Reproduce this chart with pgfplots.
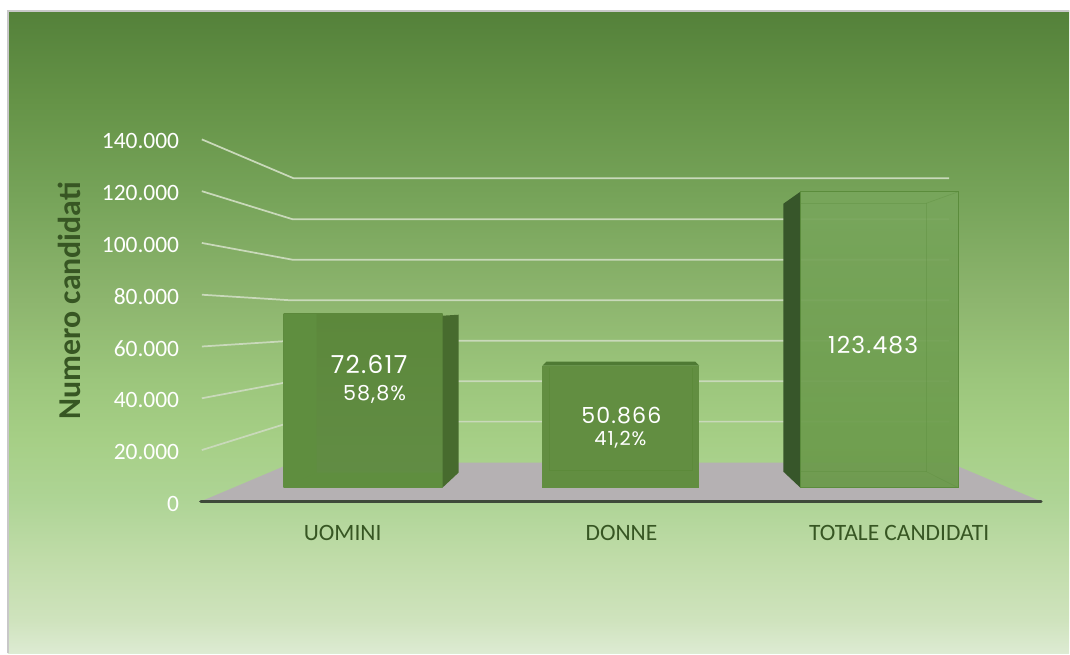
\documentclass[border=0pt]{standalone}
\usepackage{pgfplots}
\pgfplotsset{compat=1.18}
\usepackage{fontspec}
\setmainfont{Carlito}
\newfontfamily\lblfont[LetterSpace=5]{Poppins}
\definecolor{bga}{RGB}{221,235,211}
\definecolor{bgb}{RGB}{207,227,189}
\definecolor{bgc}{RGB}{192,220,169}
\definecolor{bgd}{RGB}{174,212,149}
\definecolor{bge}{RGB}{166,207,134}
\definecolor{bgf}{RGB}{156,198,124}
\definecolor{bgg}{RGB}{141,181,110}
\definecolor{bgh}{RGB}{119,164,90}
\definecolor{bgi}{RGB}{101,147,71}
\definecolor{bgj}{RGB}{84,129,58}
\pgfdeclareverticalshading{bgshade}{100bp}{
 color(0bp)=(bga);
 color(25bp)=(bga);
 color(27.6bp)=(bgb);
 color(32.3bp)=(bgc);
 color(37bp)=(bgd);
 color(41.6bp)=(bge);
 color(46.3bp)=(bgf);
 color(52.5bp)=(bgg);
 color(60.3bp)=(bgh);
 color(68bp)=(bgi);
 color(75bp)=(bgj);
 color(100bp)=(bgj)}
\definecolor{gridc}{HTML}{C9D9BA}
\definecolor{floorc}{HTML}{B5B1B3}
\definecolor{axisc}{HTML}{3F4A3A}
\definecolor{titlec}{HTML}{375623}
\definecolor{framec}{HTML}{C8C8C8}
\definecolor{HTMLa}{HTML}{5C883B}
\definecolor{HTMLb}{HTML}{628D45}
\definecolor{HTMLc}{HTML}{5F8E3F}
\definecolor{HTMLd}{HTML}{476B2E}
\definecolor{HTMLe}{HTML}{4F7A34}
\definecolor{HTMLf}{HTML}{628E41}
\definecolor{HTMLg}{HTML}{5C8A3A}
\definecolor{HTMLh}{HTML}{37562A}
\definecolor{HTMLi}{HTML}{5B8C3C}
\definecolor{HTMLj}{HTML}{78A65C}
\definecolor{HTMLk}{HTML}{6A9A49}
\begin{document}
\begin{tikzpicture}
\begin{axis}[
 scale only axis, width=632.25pt, height=272.1pt,
 xmin=200, xmax=1043, ymin=0, ymax=140000, clip=false, axis on top,
 axis line style={draw=none}, major tick length=0pt,
 xtick={343,622,900}, xticklabels={UOMINI,DONNE,TOTALE CANDIDATI},
 ytick={0,20000,40000,60000,80000,100000,120000,140000},
 yticklabels={0,20.000,40.000,60.000,80.000,100.000,120.000,140.000},
 scaled y ticks=false,
 y tick label style={white,font=\fontsize{17.6}{20}\selectfont,yshift=-1.3pt},
 x tick label style={titlec,font=\fontsize{17.6}{20}\selectfont,anchor=center,yshift=-23.5pt},
 yticklabel shift=12pt,
 ylabel={Numero candidati},
 y label style={at={(axis cs:69,77682)},anchor=center,font=\fontsize{23.9}{26}\selectfont\bfseries,text=titlec},
]
% page and background
\addplot[draw=none,fill=white,forget plot] coordinates {(0,-58541)(1070,-58541)(1070,193838)(0,193838)} -- cycle;
\addplot[draw=none,shading=bgshade,forget plot] coordinates {(8,-58541)(1070,-58541)(1070,189593)(8,189593)} -- cycle;
\addplot[framec,line width=1.5pt,forget plot] coordinates {(8,-58541)(8,189593)(1070,189593)};
% floor
\addplot[draw=none,fill=floorc,forget plot] coordinates {(200,0)(293,15166)(950,15166)(1043,0)} -- cycle;
% gridlines: front value, back wall level
\addplot[gridc,line width=1.3pt,forget plot] coordinates {(202,140000)(294,124954)(950,124954)};
\addplot[gridc,line width=1.3pt,forget plot] coordinates {(202,120000)(293,109133)(950,109133)};
\addplot[gridc,line width=1.3pt,forget plot] coordinates {(202,100000)(293,93504)(950,93504)};
\addplot[gridc,line width=1.3pt,forget plot] coordinates {(202,80000)(290,77875)(950,77875)};
\addplot[gridc,line width=1.3pt,forget plot] coordinates {(202,60000)(293,62246)(950,62246)};
\addplot[gridc,line width=1.3pt,forget plot] coordinates {(202,40000)(293,46617)(950,46617)};
\addplot[gridc,line width=1.3pt,forget plot] coordinates {(202,20000)(293,30988)(950,30988)};
% axis line
\addplot[axisc,line width=2.4pt,line cap=round,forget plot] coordinates {(201,0)(1042,0)};
% bar 1: UOMINI
\addplot[draw=none,top color=HTMLa,bottom color=HTMLb,forget plot] coordinates {(284,72617)(443,72617)(443,5518)(284,5518)} -- cycle;
\addplot[draw=none,fill=HTMLc,forget plot] coordinates {(284,72617)(317,72617)(317,11307)(284,5518)} -- cycle;
\addplot[draw=none,fill=HTMLc,forget plot] coordinates {(284,5518)(317,11307)(443,11307)(443,5518)} -- cycle;
\addplot[draw=none,fill=HTMLd,forget plot] coordinates {(443,71893)(459,72279)(459,11307)(443,5518)} -- cycle;
% bar 2: DONNE
\addplot[draw=none,fill=HTMLe,forget plot] coordinates {(543,52598)(547,54142)(696,54142)(700,52598)} -- cycle;
\addplot[draw=none,fill=HTMLf,forget plot] coordinates {(543,52598)(700,52598)(700,5518)(543,5518)} -- cycle;
\addplot[HTMLg,line width=.6pt,forget plot] coordinates {(550,51826)(550,12079)(693,12079)(693,51826)};
% bar 3: TOTALE CANDIDATI
\addplot[draw=none,fill=HTMLh,forget plot] coordinates {(784,115114)(801,119745)(801,5518)(784,11693)} -- cycle;
\addplot[draw=HTMLi,line width=.7pt,top color=HTMLj,bottom color=HTMLk,fill opacity=.93,forget plot] coordinates {(801,119745)(959,119745)(959,5518)(801,5518)} -- cycle;
\addplot[HTMLi,opacity=.35,line width=.5pt,forget plot] coordinates {(801,115307)(927,115307)(927,11693)(801,11693)};
\addplot[HTMLi,opacity=.35,line width=.5pt,forget plot] coordinates {(927,115307)(959,119745)};
\addplot[HTMLi,opacity=.35,line width=.5pt,forget plot] coordinates {(927,11693)(959,5518)};
% value labels
\node[white,font=\lblfont\fontsize{18.6}{20}\selectfont] at (axis cs:369.5,53177) {72.617};
\node[white,font=\lblfont\fontsize{15.5}{17}\selectfont] at (axis cs:375,41600) {58,8\%};
\node[white,font=\lblfont\fontsize{16.6}{18}\selectfont] at (axis cs:622,33200) {50.866};
\node[white,font=\lblfont\fontsize{14.6}{16}\selectfont] at (axis cs:621,23800) {41,2\%};
\node[white,font=\lblfont\fontsize{17.6}{19}\selectfont] at (axis cs:874,60702) {123.483};
\end{axis}
\end{tikzpicture}
\end{document}
